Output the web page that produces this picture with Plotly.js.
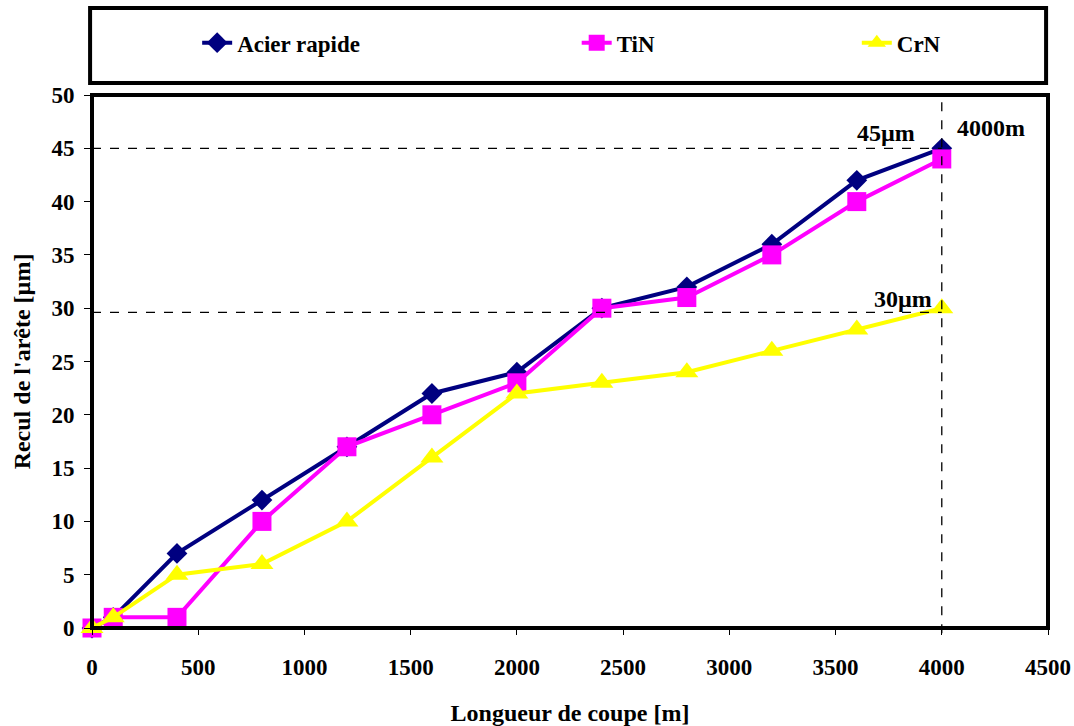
<!DOCTYPE html>
<html>
<head>
<meta charset="utf-8">
<script src="https://cdn.plot.ly/plotly-3.0.1.min.js"></script>
<style>html,body{margin:0;padding:0;background:#fff;}</style>
</head>
<body>
<div id="chart" style="width:1074px;height:726px;"></div>
<script>
// Data
const longueur = [0, 100, 400, 800, 1200, 1600, 2000, 2400, 2800, 3200, 3600, 4000];
const acierRapide = [0, 1, 7, 12, 17, 22, 24, 30, 32, 36, 42, 45];
const tiN = [0, 1, 1, 10, 17, 20, 23, 30, 31, 35, 40, 44];
const crN = [0, 1, 5, 6, 10, 16, 22, 23, 24, 26, 28, 30];
const seriesNames = ['Acier rapide', 'TiN', 'CrN'];
const refLevels = [45, 29.6];
const refLength = 4000;
const refLabels = ['45µm', '30µm', '4000m'];

const FONT = '"Liberation Serif", "Times New Roman", serif';

const traces = [
  {x: longueur, y: acierRapide, name: seriesNames[0], mode: 'lines+markers', legend: 'legend',
   line: {color: '#000080', width: 4}, marker: {symbol: 'diamond', size: 16, color: '#000080'}, cliponaxis: false},
  {x: longueur, y: tiN, name: seriesNames[1], mode: 'lines+markers', legend: 'legend2',
   line: {color: '#FF00FF', width: 4}, marker: {symbol: 'square', size: 19, color: '#FF00FF'}, cliponaxis: false},
  {x: longueur, y: crN, name: seriesNames[2], mode: 'lines+markers', legend: 'legend3',
   line: {color: '#FFFF00', width: 4}, marker: {symbol: 'triangle-up', size: 20, color: '#FFFF00'}, cliponaxis: false}
];

const legendFont = {family: FONT, size: 23, color: '#000', weight: 'bold'};
function leg(x) {
  return {x: x, y: 1.098, xanchor: 'left', yanchor: 'middle', orientation: 'h',
          bgcolor: 'rgba(0,0,0,0)', borderwidth: 0, font: legendFont, itemwidth: 30};
}

const shapes = [
  // plot frame
  {type: 'rect', xref: 'paper', yref: 'paper', x0: 0, x1: 1, y0: 0, y1: 1, line: {color: '#000', width: 4}},
  // legend frame
  {type: 'rect', xref: 'paper', yref: 'paper', x0: -0.002, x1: 0.998, y0: 1.0225, y1: 1.163, line: {color: '#000', width: 4}},
  // reference lines
  {type: 'line', xref: 'x', yref: 'y', x0: 0, x1: refLength, y0: refLevels[0], y1: refLevels[0], line: {color: '#000', width: 1.3, dash: 'dash'}},
  {type: 'line', xref: 'x', yref: 'y', x0: 0, x1: refLength, y0: refLevels[1], y1: refLevels[1], line: {color: '#000', width: 1.3, dash: 'dash'}},
  {type: 'line', xref: 'x', yref: 'paper', x0: refLength, x1: refLength, y0: -0.01, y1: 1, line: {color: '#000', width: 1.3, dash: 'dash'}}
];

const annFont = {family: FONT, size: 24, color: '#000', weight: 'bold'};
const annotations = [
  {x: 3879, y: 45.1, xref: 'x', yref: 'y', text: refLabels[0], showarrow: false, xanchor: 'right', yanchor: 'bottom', font: annFont, borderpad: 0},
  {x: 3959, y: 29.55, xref: 'x', yref: 'y', text: refLabels[1], showarrow: false, xanchor: 'right', yanchor: 'bottom', font: annFont, borderpad: 0},
  {x: 4067, y: 45.6, xref: 'x', yref: 'y', text: refLabels[2], showarrow: false, xanchor: 'left', yanchor: 'bottom', font: annFont, borderpad: 0}
];

const tickFont = {family: FONT, size: 23, color: '#000', weight: 'bold'};
const layout = {
  width: 1074, height: 726,
  margin: {l: 92, r: 26, t: 95, b: 98},
  paper_bgcolor: '#fff', plot_bgcolor: '#fff',
  showlegend: true,
  legend: leg(0.11), legend2: leg(0.507), legend3: leg(0.8),
  xaxis: {range: [0, 4500], dtick: 500, tick0: 0, showgrid: false, zeroline: false,
          ticks: 'outside', ticklen: 6, tickwidth: 1, tickcolor: '#000', showline: false,
          tickfont: tickFont, ticklabelstandoff: 12,
          title: {text: 'Longueur de coupe [m]', font: {family: FONT, size: 24, color: '#000', weight: 'bold'}, standoff: 30}},
  yaxis: {range: [0, 50], dtick: 5, tick0: 0, showgrid: false, zeroline: false,
          ticks: 'outside', ticklen: 7, tickwidth: 1, tickcolor: '#000', showline: false,
          tickfont: tickFont, ticklabelstandoff: 5,
          title: {text: "Recul de l'arête [µm]", font: {family: FONT, size: 24, color: '#000', weight: 'bold'}, standoff: 14}},
  shapes: shapes,
  annotations: annotations
};

Plotly.newPlot('chart', traces, layout, {displayModeBar: false, staticPlot: true});
</script>
</body>
</html>
